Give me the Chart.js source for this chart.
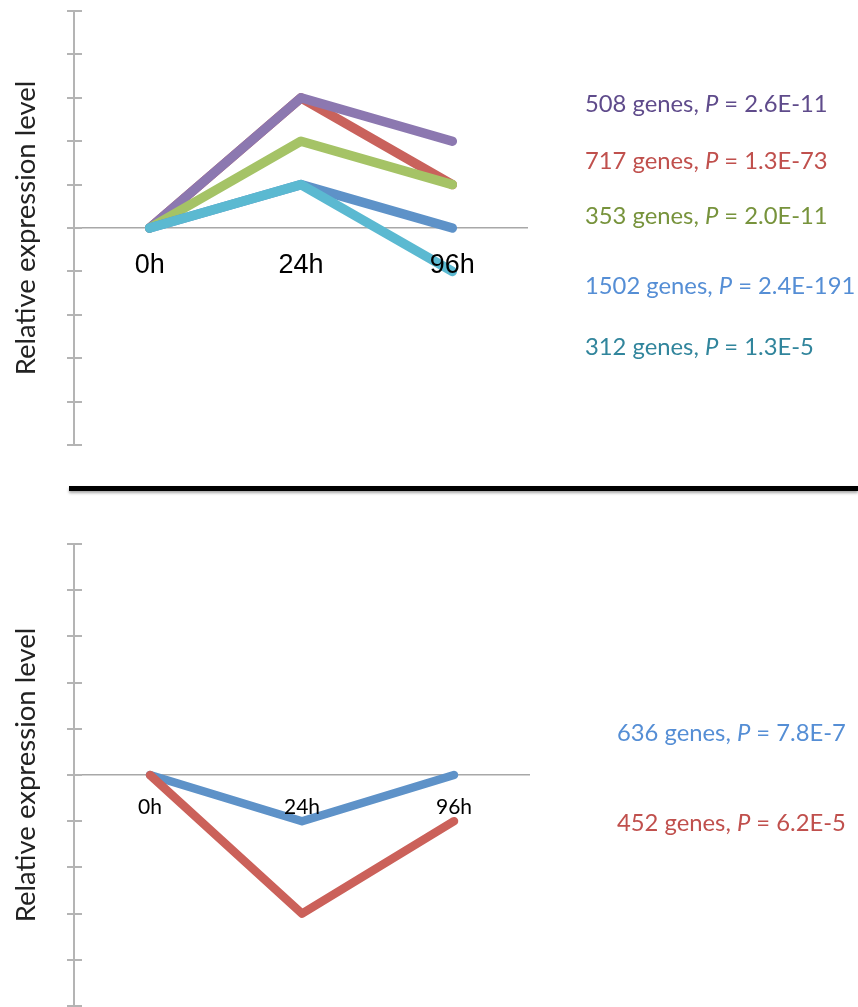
<!DOCTYPE html>
<html>
<head>
<meta charset="utf-8">
<script src="https://cdn.jsdelivr.net/npm/chart.js@4"></script>
<style>
  body { margin: 0; background: #fff; }
  #wrap { position: relative; width: 858px; height: 1007px; overflow: hidden; }
  canvas { position: absolute; left: 0; }
  #divider { position: absolute; left: 69px; top: 486px; width: 789px; height: 5px; background: #000; box-shadow: 0 2px 3px rgba(0,0,0,.35); }
  .note { position: absolute; font: 23.8px Lato, "Open Sans", sans-serif; line-height: 28px; white-space: nowrap; }
  .note i { font-style: italic; }
</style>
</head>
<body>
<div id="wrap">
  <canvas id="upCanvas" width="858" height="480" style="top:0"></canvas>
  <div id="divider"></div>
  <canvas id="downCanvas" width="858" height="517" style="top:490px"></canvas>
</div>
<script>
// ── Data ─────────────────────────────────────────────────────
const timeLabels = ['0h', '24h', '96h'];

// upper panel (order: purple, red, green, blue, cyan)
const upPurple = [0, 3, 2];
const upRed    = [0, 3, 1];
const upGreen  = [0, 2, 1];
const upBlue   = [0, 1, 0];
const upCyan   = [0, 1, -1];
const upGenes  = [508, 717, 353, 1502, 312];
const upP      = ['2.6E-11', '1.3E-73', '2.0E-11', '2.4E-191', '1.3E-5'];

// lower panel
const downBlue  = [0, -1, 0];
const downRed   = [0, -3, -1];
const downGenes = [636, 452];
const downP     = ['7.8E-7', '6.2E-5'];

const yMin = -5, yMax = 5;

// ── Styles ───────────────────────────────────────────────────
const lineCol = { purple: '#8c78b0', red: '#c9625c', green: '#a5c366', blue: '#5e92c8', cyan: '#5bb9d1' };
const textCol = ['#5f4b8b', '#c0504d', '#77933c', '#558ed5', '#31859c'];
const downTextCol = ['#558ed5', '#c0504d'];

// short tick marks crossing the y axis
const crossTicks = {
  id: 'crossTicks',
  beforeDatasetsDraw(chart) {
    const y = chart.scales.y, ctx = chart.ctx;
    ctx.save();
    ctx.strokeStyle = '#b4b4b4';
    ctx.lineWidth = 2;
    y.ticks.forEach((t, i) => {
      const py = Math.round(y.getPixelForTick(i));
      ctx.beginPath();
      ctx.moveTo(y.right - 7, py);
      ctx.lineTo(y.right + 8, py);
      ctx.stroke();
    });
    ctx.restore();
  }
};

function ds(data, color, order, width) {
  return { data, borderColor: color, borderWidth: width, pointRadius: 0, tension: 0,
           borderCapStyle: 'round', borderJoinStyle: 'round', order, fill: false };
}

function opts(pad, tickFont, tickPad) {
  return {
    responsive: false, animation: false,
    layout: { padding: pad },
    plugins: { legend: { display: false }, tooltip: { enabled: false } },
    scales: {
      x: {
        type: 'category', offset: true, position: { y: 0 },
        grid: { display: false, drawTicks: false }, border: { display: false },
        ticks: { color: '#000', font: tickFont, padding: tickPad, maxRotation: 0, z: 1 }
      },
      y: {
        min: yMin, max: yMax,
        ticks: { display: false, stepSize: 1 },
        grid: { drawTicks: false, lineWidth: 1.5,
                color: c => c.tick && c.tick.value === 0 ? '#a8a8a8' : 'rgba(0,0,0,0)' },
        border: { display: true, color: '#b4b4b4', width: 2 },
        title: { display: true, text: 'Relative expression level', color: '#222',
                 font: { family: 'Lato, "Open Sans", sans-serif', size: 27.5 },
                 padding: { top: 10, bottom: 31 } }
      }
    }
  };
}

// ── Upper chart ──────────────────────────────────────────────
new Chart(document.getElementById('upCanvas'), {
  type: 'line',
  data: {
    labels: timeLabels,
    datasets: [
      ds(upPurple, lineCol.purple, 3, 9.5),
      ds(upRed, lineCol.red, 4, 9.5),
      ds(upGreen, lineCol.green, 2, 9.5),
      ds(upBlue, lineCol.blue, 1, 9.5),
      ds(upCyan, lineCol.cyan, 0, 9.5),
    ]
  },
  options: opts({ left: 0, top: 11, right: 330, bottom: 35 },
                { family: '"Liberation Sans", Arial, sans-serif', size: 27 }, 21),
  plugins: [crossTicks]
});

// ── Lower chart ──────────────────────────────────────────────
new Chart(document.getElementById('downCanvas'), {
  type: 'line',
  data: {
    labels: timeLabels,
    datasets: [
      ds(downBlue, lineCol.blue, 1, 8.5),
      ds(downRed, '#cb615a', 0, 8.5),
    ]
  },
  options: opts({ left: 0, top: 54, right: 328, bottom: 1 },
                { family: 'Lato, "Open Sans", sans-serif', size: 21 }, 20),
  plugins: [crossTicks]
});

// ── Gene count notes ─────────────────────────────────────────
const wrap = document.getElementById('wrap');
function addNote(n, p, color, left, top) {
  const d = document.createElement('div');
  d.className = 'note';
  d.style.left = left + 'px';
  d.style.top = top + 'px';
  d.style.color = color;
  d.innerHTML = `${n} genes, <i>P</i> = ${p}`;
  wrap.appendChild(d);
}
const upTops = [89, 146, 201, 271, 332];
upGenes.forEach((n, i) => addNote(n, upP[i], textCol[i], 585, upTops[i]));
const downTops = [718, 808];
downGenes.forEach((n, i) => addNote(n, downP[i], downTextCol[i], 617, downTops[i]));
</script>
</body>
</html>
